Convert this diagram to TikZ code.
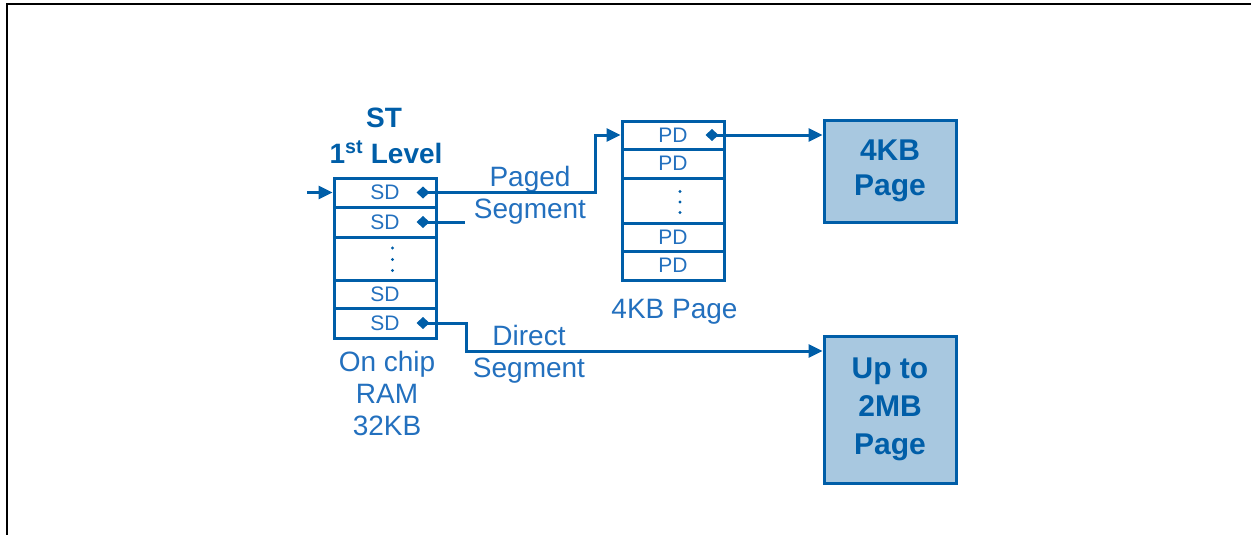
\documentclass[tikz,border=0pt]{standalone}
\usepackage{fontspec}
\setmainfont{Liberation Sans}
\usetikzlibrary{arrows.meta}
\definecolor{lineblue}{RGB}{0,94,168}
\definecolor{textblue}{RGB}{35,112,190}
\definecolor{boxfill}{RGB}{168,200,224}
\tikzset{
  cell/.style={draw=lineblue, line width=3pt, minimum width=102pt, inner sep=0pt, text=textblue, font=\fontsize{21}{21}\selectfont},
  celldot/.style={fill=lineblue},
  lbl/.style={text=textblue, align=center, font=\fontsize{28}{32}\selectfont, inner sep=0pt},
  hdr/.style={text=lineblue, font=\bfseries\fontsize{28}{32}\selectfont, inner sep=0pt},
  pagebox/.style={draw=lineblue, fill=boxfill, line width=3pt, text=lineblue, align=center, font=\bfseries\fontsize{30}{38}\selectfont, minimum width=132pt, inner sep=0pt},
  conn/.style={draw=lineblue, line width=3pt},
  tip/.style={-{Triangle[length=14pt,width=13pt]}},
  dia/.style={{Diamond[length=13pt,width=12pt]}-},
  diatip/.style={{Diamond[length=13pt,width=12pt]}-{Triangle[length=14pt,width=13pt]}}
}
\begin{document}
\begin{tikzpicture}[x=1pt,y=-1pt]
\useasboundingbox (0,0) rectangle (1251,535);
% frame
\draw[black, line width=2pt] (7,535) -- (7,4.5) -- (1251,4.5);

% ST table
\node[cell, minimum height=29pt] (sd1) at (385,192.5) {SD};
\node[cell, minimum height=30pt] (sd2) at (385,222) {SD};
\node[cell, minimum height=43pt] (sd3) at (385,258.5) {};
\node[cell, minimum height=28pt] (sd4) at (385,294) {SD};
\node[cell, minimum height=30pt] (sd5) at (385,323) {SD};
\foreach \dy in {-10.5,1,12}
  \fill[celldot] ([xshift=7.5pt,yshift=-\dy pt]sd3.center) circle (1.7);

% PD table
\node[cell, minimum height=28pt] (pd1) at (673,135) {PD};
\node[cell, minimum height=29pt] (pd2) at (673,163.5) {PD};
\node[cell, minimum height=45pt] (pd3) at (673,200.5) {};
\node[cell, minimum height=28pt] (pd4) at (673,237) {PD};
\node[cell, minimum height=29pt] (pd5) at (673,265.5) {PD};
\foreach \dy in {-9,1.5,12}
  \fill[celldot] ([xshift=7pt,yshift=-\dy pt]pd3.center) circle (1.7);

% page boxes
\node[pagebox, minimum height=102pt] (box4) at (890,171) {\raisebox{-3pt}{4KB}\\Page};
\node[pagebox, minimum height=147pt] (box2) at (890,409.5) {Up to\\2MB\\Page};

% labels
\node[hdr, anchor=base] (st) at (384,128) {ST};
\node[hdr, anchor=base] (lvl) at (386,163) {1\textsuperscript{st} Level};
\node[lbl] (paged) at (530,195.5) {Paged\\Segment};
\node[lbl] (direct) at (529,354) {Direct\\Segment};
\node[lbl] (ram) at (387,393) {On chip\\RAM\\32KB};
\node[lbl, anchor=base] (pglbl) at (674.5,318) {4KB Page};

% connectors
\coordinate (in) at (307,192.5);
\coordinate (sd2end) at (465,222);
\draw[conn, tip] (in) -- (sd1.west);
\draw[conn, diatip] ([xshift=-21pt]sd1.east) -- ++(179,0) |- (pd1.west);
\draw[conn, dia] ([xshift=-21pt]sd2.east) -- (sd2end);
\draw[conn, diatip] ([xshift=-21pt]sd5.east) -- ++(50,0) |- ([yshift=58.5pt]box2.west);
\draw[conn, diatip] ([xshift=-20pt]pd1.east) -- (pd1.east -| box4.west);
\end{tikzpicture}
\end{document}
